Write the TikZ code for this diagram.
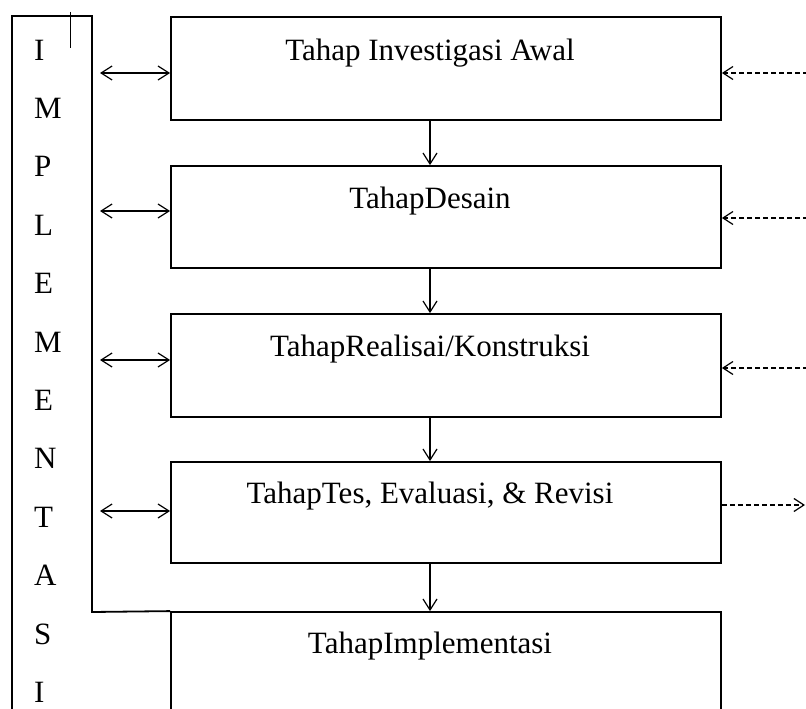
\documentclass[tikz,border=0pt]{standalone}
\usepackage{fontspec}
\setmainfont{Liberation Serif}
\usetikzlibrary{arrows.meta}
\tikzset{
  x=1pt, y=-1pt,
  box/.style={draw, line width=1.8pt, rectangle, minimum width=550pt, inner sep=0pt},
  lbl/.style={anchor=base, inner sep=0pt, font=\fontsize{31}{31}\selectfont},
  letter/.style={anchor=base west, inner sep=0pt, font=\fontsize{31}{31}\selectfont},
  arr/.style={line width=1.2pt, -{Straight Barb[length=11pt,width=14pt]}},
  darr/.style={line width=1.2pt, -{Straight Barb[length=10pt,width=13pt]}, dash pattern=on 5pt off 3pt},
  biarr/.style={line width=1.2pt, {Straight Barb[length=11pt,width=14pt]}-{Straight Barb[length=11pt,width=14pt]}},
  frame/.style={line width=1.8pt}
}
\begin{document}
\begin{tikzpicture}
\clip (0,0) rectangle (806,709);
\fill[white] (0,0) rectangle (806,709);
% boxes
\node[box, minimum height=103pt] (b1) at (446,68.5) {};
\node[box, minimum height=102pt] (b2) at (446,217) {};
\node[box, minimum height=103pt] (b3) at (446,365.5) {};
\node[box, minimum height=101pt] (b4) at (446,512.5) {};
\node[box, minimum height=104pt] (b5) at (446,664) {};
% labels
\node[lbl] (t1) at (430,60) {Tahap Investigasi Awal};
\node[lbl] (t2) at (430,208) {TahapDesain};
\node[lbl] (t3) at (430,356) {TahapRealisai/Konstruksi};
\node[lbl] (t4) at (430,503) {TahapTes, Evaluasi, \& Revisi};
\node[lbl] (t5) at (430,653) {TahapImplementasi};
% down arrows
\draw[arr] (t1 |- b1.south) -- (t1 |- b2.north);
\draw[arr] (t2 |- b2.south) -- (t2 |- b3.north);
\draw[arr] (t3 |- b3.south) -- (t3 |- b4.north);
\draw[arr] (t4 |- b4.south) -- (t4 |- b5.north);
% left column frame
\coordinate (fa) at (12,712);
\coordinate (fb) at (12,16);
\coordinate (fc) at (92,16);
\coordinate (fd) at (92,612);
\draw[frame] (fa) -- (fb) -- (fc) -- (fd) -- (b5.north west);
\coordinate (tk1) at (70,12);
\coordinate (tk2) at (70,48);
\draw[line width=1pt] (tk1) -- (tk2);
% letters
\node[letter] (c1) at (34,60) {I};
\node[letter] (c2) at (34,118.4) {M};
\node[letter] (c3) at (34,176.8) {P};
\node[letter] (c4) at (34,235.2) {L};
\node[letter] (c5) at (34,293.6) {E};
\node[letter] (c6) at (34,352) {M};
\node[letter] (c7) at (34,410.4) {E};
\node[letter] (c8) at (34,468.8) {N};
\node[letter] (c9) at (34,527.2) {T};
\node[letter] (c10) at (34,585.6) {A};
\node[letter] (c11) at (34,644) {S};
\node[letter] (c12) at (34,702.4) {I};
% left double arrows
\coordinate (l1) at (100,73);
\coordinate (l2) at (100,211);
\coordinate (l3) at (100,360);
\coordinate (l4) at (100,511);
\draw[biarr] (l1) -- (l1 -| b1.west);
\draw[biarr] (l2) -- (l2 -| b2.west);
\draw[biarr] (l3) -- (l3 -| b3.west);
\draw[biarr] (l4) -- (l4 -| b4.west);
% right dashed arrows
\coordinate (r1) at (808,73);
\coordinate (r2) at (808,218);
\coordinate (r3) at (808,368);
\coordinate (r4) at (805,505);
\draw[darr] (r1) -- (r1 -| b1.east);
\draw[darr] (r2) -- (r2 -| b2.east);
\draw[darr] (r3) -- (r3 -| b3.east);
\draw[darr] (r4 -| b4.east) -- (r4);
\end{tikzpicture}
\end{document}
